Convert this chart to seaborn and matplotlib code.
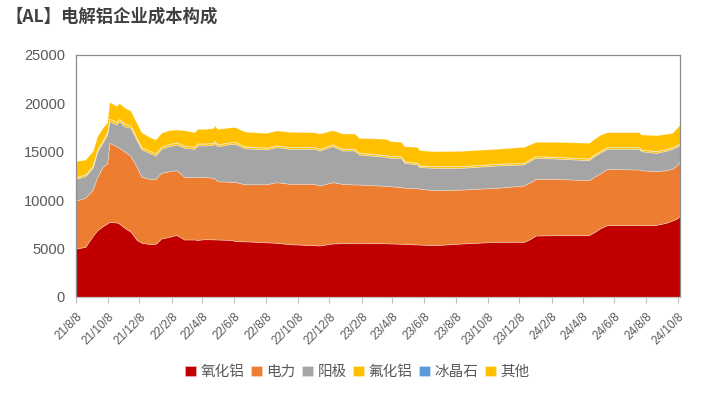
import pandas as pd
import matplotlib
matplotlib.use("Agg")
import matplotlib.pyplot as plt
import seaborn as sns

# cost components (yuan/t)
dates = [
    "2021-08-08", "2021-08-26", "2021-09-09", "2021-09-18", "2021-09-28", "2021-10-07",
    "2021-10-11", "2021-10-25", "2021-10-30", "2021-11-09", "2021-11-21", "2021-12-02",
    "2021-12-12", "2021-12-27", "2022-01-08", "2022-01-19", "2022-02-04", "2022-02-17",
    "2022-03-04", "2022-03-24", "2022-03-29", "2022-04-12", "2022-04-29", "2022-05-01",
    "2022-05-07", "2022-06-03", "2022-06-10", "2022-06-28", "2022-07-21", "2022-08-09",
    "2022-08-28", "2022-09-22", "2022-11-09", "2022-11-19", "2022-12-14", "2023-01-02",
    "2023-01-25", "2023-02-03", "2023-03-27", "2023-04-04", "2023-04-25", "2023-05-01",
    "2023-05-26", "2023-05-30", "2023-06-28", "2023-08-20", "2023-10-25", "2023-12-17",
    "2023-12-27", "2024-01-09", "2024-02-13", "2024-04-20", "2024-04-30", "2024-05-13",
    "2024-05-25", "2024-07-25", "2024-07-29", "2024-08-27", "2024-09-15", "2024-09-27",
    "2024-10-06", "2024-10-12",
]
alumina = [
    5010, 5180, 6300, 6900, 7300, 7600, 7750, 7700, 7590, 7150, 6750, 5940,
    5600, 5480, 5500, 6040, 6220, 6420, 5940, 5940, 5900, 5970, 5960, 5950,
    5940, 5900, 5770, 5750, 5700, 5650, 5600, 5460, 5350, 5320, 5530, 5560,
    5590, 5600, 5550, 5530, 5500, 5480, 5430, 5420, 5350, 5530, 5700, 5700,
    5940, 6350, 6390, 6390, 6700, 7150, 7420, 7420, 7420, 7450, 7660, 7900,
    8100, 8400,
]
power = [
    4960, 5070, 4800, 5520, 6150, 6190, 8180, 7880, 7820, 7910, 7800, 7570,
    6820, 6730, 6710, 6790, 6780, 6680, 6480, 6440, 6520, 6430, 6350, 6350,
    6020, 6000, 6110, 5900, 5950, 6000, 6260, 6240, 6340, 6200, 6330, 6130,
    6030, 6020, 5930, 5920, 5850, 5820, 5810, 5780, 5680, 5570, 5580, 5820,
    5860, 5860, 5820, 5680, 5720, 5680, 5820, 5750, 5680, 5550, 5440, 5340,
    5500, 5630,
]
anode = [
    2240, 2230, 2250, 2640, 2480, 3000, 2230, 2240, 2750, 2580, 2930, 2760,
    2820, 2680, 2410, 2480, 2600, 2650, 2990, 2930, 3230, 3250, 3390, 3630,
    3620, 3920, 3940, 3720, 3650, 3590, 3620, 3610, 3620, 3610, 3720, 3440,
    3510, 3100, 3000, 2930, 3030, 2560, 2450, 2210, 2320, 2250, 2300, 2170,
    2230, 2170, 2100, 2060, 2130, 2130, 2070, 2140, 1960, 1890, 2000, 2070,
    1900, 1720,
]
alf3 = [
    170, 170, 180, 200, 220, 240, 250, 250, 250, 250, 240, 230,
    220, 210, 200, 200, 200, 200, 200, 200, 190, 190, 190, 190,
    180, 180, 180, 180, 170, 170, 170, 170, 170, 170, 170, 170,
    170, 170, 160, 160, 160, 160, 160, 160, 160, 160, 160, 160,
    160, 160, 160, 160, 160, 160, 160, 160, 160, 160, 160, 160,
    160, 160,
]
cryolite = [
    30, 30, 30, 30, 30, 30, 30, 30, 30, 30, 30, 30,
    30, 30, 30, 30, 30, 30, 30, 30, 30, 30, 30, 30,
    30, 30, 30, 30, 30, 30, 30, 30, 30, 30, 30, 30,
    30, 30, 30, 30, 30, 30, 30, 30, 30, 30, 30, 30,
    30, 30, 30, 30, 30, 30, 30, 30, 30, 30, 30, 30,
    30, 30,
]
other = [
    1620, 1520, 1510, 1330, 1320, 980, 1710, 1640, 1580, 1670, 1490, 1510,
    1510, 1410, 1420, 1440, 1420, 1320, 1590, 1480, 1500, 1500, 1530, 1570,
    1580, 1510, 1510, 1520, 1500, 1520, 1520, 1560, 1510, 1560, 1450, 1560,
    1560, 1520, 1670, 1530, 1460, 1530, 1630, 1570, 1520, 1560, 1540, 1630,
    1530, 1460, 1530, 1610, 1600, 1650, 1520, 1520, 1540, 1640, 1560, 1460,
    1790, 1880,
]
labels = ["氧化铝", "电力", "阳极", "氟化铝", "冰晶石", "其他"]
colors = ["#C00000", "#ED7D31", "#A5A5A5", "#FFC000", "#5B9BD5", "#FFC000"]

tick_dates = [pd.Timestamp("2021-08-08") + pd.DateOffset(months=2 * i) for i in range(20)]
tick_labels = [f"{d.year % 100}/{d.month}/{d.day}" for d in tick_dates]

sns.set_theme(style="white")
plt.rcParams["font.family"] = ["Liberation Sans", "Noto Sans CJK SC", "DejaVu Sans"]

x = pd.to_datetime(dates)
fig = plt.figure(figsize=(7.03, 3.97), dpi=100)
ax = fig.add_axes([0.1081, 0.2519, 0.8592, 0.6096])

ax.stackplot(x, alumina, power, anode, alf3, cryolite, other,
             colors=colors, labels=labels, edgecolor=(1, 1, 1, 0.4), linewidth=0.5)

ax.set_xlim(x[0], x[-1])
ax.set_ylim(0, 25000)
ax.set_yticks(range(0, 25001, 5000))
ax.set_xticks(tick_dates)
ax.set_xticklabels(tick_labels, rotation=45, ha="right", rotation_mode="anchor")

ax.tick_params(axis="y", length=0, labelsize=10.5, labelcolor="#595959", pad=8)
ax.tick_params(axis="x", length=4, width=0.8, color="#BFBFBF", direction="out",
               labelsize=8.5, labelcolor="#595959", pad=6, bottom=True)
for side in ["top", "left", "right"]:
    ax.spines[side].set_color("#8C8C8C")
    ax.spines[side].set_linewidth(0.9)
ax.spines["bottom"].set_color("#BFBFBF")
ax.spines["bottom"].set_linewidth(0.9)
ax.grid(False)

fig.text(0.008, 0.958, "【AL】电解铝企业成本构成", fontsize=12.5, fontweight="bold",
         color="#404040", va="center", ha="left",
         family=["Noto Sans CJK SC", "DejaVu Sans"])

handles, hl = ax.get_legend_handles_labels()
fig.legend(handles, hl, loc="center", bbox_to_anchor=(0.508, 0.063), ncol=6,
           frameon=False, handlelength=0.75, handleheight=0.75, handletextpad=0.3,
           columnspacing=0.45, prop={"family": ["Noto Sans CJK SC"], "size": 10.5},
           labelcolor="#595959")

fig.savefig("out.png", dpi=100)
